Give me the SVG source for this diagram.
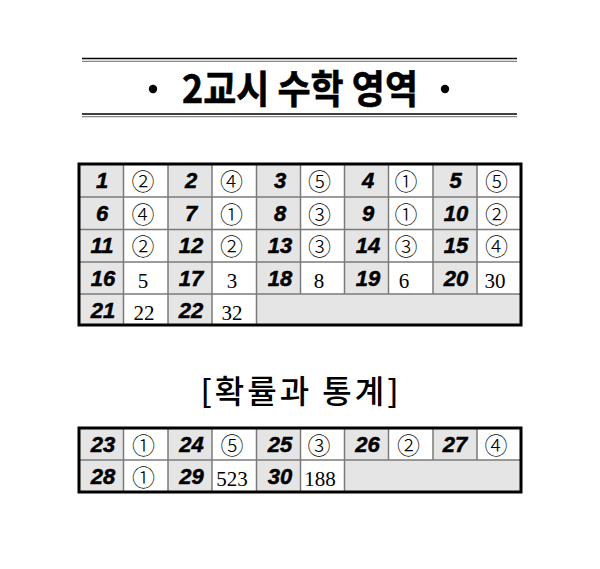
<svg xmlns="http://www.w3.org/2000/svg" width="600" height="569" viewBox="0 0 600 569">
<style>
.num{font-family:"Liberation Sans",Arial,sans-serif;font-weight:bold;font-style:italic;font-size:22px;text-anchor:middle;fill:#000;stroke:#000;stroke-width:0.5}
.ans{font-family:"Noto Sans CJK KR",sans-serif;font-weight:300;font-size:23px;text-anchor:middle;fill:#000}
.val{font-family:"Liberation Serif","Times New Roman",serif;font-size:21px;text-anchor:middle;fill:#000}
.g{fill:#e5e5e5}
.grid line{stroke:#7a7a7a;stroke-width:1.5}
.frame{fill:none;stroke:#000;stroke-width:3}
.title{font-family:"Noto Sans CJK KR",sans-serif;font-weight:bold;font-size:39px;text-anchor:middle;fill:#000;stroke:#000;stroke-width:0.6}
.sub{font-family:"Noto Sans CJK KR",sans-serif;font-weight:500;font-size:32px;text-anchor:middle;fill:#000;letter-spacing:3px}
</style>
<rect width="600" height="569" fill="#fff"/>
<g id="title">
<line x1="82" y1="58.5" x2="517" y2="58.5" stroke="#000" stroke-width="1.3"/>
<line x1="82" y1="61.3" x2="517" y2="61.3" stroke="#888" stroke-width="1.3"/>
<line x1="82" y1="114" x2="517" y2="114" stroke="#000" stroke-width="1.3"/>
<line x1="82" y1="116.6" x2="517" y2="116.6" stroke="#888" stroke-width="1.3"/>
<circle cx="153" cy="89" r="4.2" fill="#000"/>
<circle cx="445" cy="89" r="4.2" fill="#000"/>
<text class="title" x="300" y="103" textLength="236" lengthAdjust="spacingAndGlyphs">2교시 수학 영역</text>
</g>
<g id="table1">
<g id="t1-bg">
<rect class="g" x="79" y="164" width="44.5" height="161"/>
<rect class="g" x="168" y="164" width="44" height="161"/>
<rect class="g" x="256.5" y="164" width="44" height="130"/>
<rect class="g" x="344.5" y="164" width="44" height="130"/>
<rect class="g" x="433" y="164" width="44" height="130"/>
<rect class="g" x="256.5" y="294" width="264.5" height="31"/>
</g>
<g class="grid">
<line x1="79" y1="197" x2="521" y2="197"/>
<line x1="79" y1="229.5" x2="521" y2="229.5"/>
<line x1="79" y1="262" x2="521" y2="262"/>
<line x1="79" y1="294" x2="521" y2="294"/>
<line x1="123.5" y1="164" x2="123.5" y2="325"/>
<line x1="168" y1="164" x2="168" y2="325"/>
<line x1="212" y1="164" x2="212" y2="325"/>
<line x1="256.5" y1="164" x2="256.5" y2="325"/>
<line x1="300.5" y1="164" x2="300.5" y2="294"/>
<line x1="344.5" y1="164" x2="344.5" y2="294"/>
<line x1="388.5" y1="164" x2="388.5" y2="294"/>
<line x1="433" y1="164" x2="433" y2="294"/>
<line x1="477" y1="164" x2="477" y2="294"/>
</g>
<rect class="frame" x="79" y="164" width="442" height="161"/>
<g id="q1"><text class="num" x="102" y="188">1</text><text class="ans" x="143" y="190">②</text></g>
<g id="q2"><text class="num" x="191" y="188">2</text><text class="ans" x="231.5" y="190">④</text></g>
<g id="q3"><text class="num" x="280" y="188">3</text><text class="ans" x="319.5" y="190">⑤</text></g>
<g id="q4"><text class="num" x="368" y="188">4</text><text class="ans" x="406" y="190">①</text></g>
<g id="q5"><text class="num" x="455.5" y="188">5</text><text class="ans" x="496.5" y="190">⑤</text></g>
<g id="q6"><text class="num" x="102" y="220.5">6</text><text class="ans" x="143" y="222.5">④</text></g>
<g id="q7"><text class="num" x="191" y="220.5">7</text><text class="ans" x="231.5" y="222.5">①</text></g>
<g id="q8"><text class="num" x="280" y="220.5">8</text><text class="ans" x="319.5" y="222.5">③</text></g>
<g id="q9"><text class="num" x="368" y="220.5">9</text><text class="ans" x="406" y="222.5">①</text></g>
<g id="q10"><text class="num" x="456" y="220.5">10</text><text class="ans" x="496.5" y="222.5">②</text></g>
<g id="q11"><text class="num" x="102" y="253">11</text><text class="ans" x="143" y="255">②</text></g>
<g id="q12"><text class="num" x="191" y="253">12</text><text class="ans" x="231.5" y="255">②</text></g>
<g id="q13"><text class="num" x="280" y="253">13</text><text class="ans" x="319.5" y="255">③</text></g>
<g id="q14"><text class="num" x="368" y="253">14</text><text class="ans" x="406" y="255">③</text></g>
<g id="q15"><text class="num" x="456" y="253">15</text><text class="ans" x="496.5" y="255">④</text></g>
<g id="q16"><text class="num" x="103" y="286">16</text><text class="val" x="143" y="288">5</text></g>
<g id="q17"><text class="num" x="191" y="286">17</text><text class="val" x="232" y="288">3</text></g>
<g id="q18"><text class="num" x="280" y="286">18</text><text class="val" x="319" y="288">8</text></g>
<g id="q19"><text class="num" x="368" y="286">19</text><text class="val" x="404" y="288">6</text></g>
<g id="q20"><text class="num" x="456" y="286">20</text><text class="val" x="495" y="288">30</text></g>
<g id="q21"><text class="num" x="103" y="318">21</text><text class="val" x="144" y="320">22</text></g>
<g id="q22"><text class="num" x="191" y="318">22</text><text class="val" x="232" y="320">32</text></g>
</g>
<g id="subtitle">
<text class="sub" x="301" y="403">[확률과 통계]</text>
</g>
<g id="table2">
<g id="t2-bg">
<rect class="g" x="79" y="428" width="44.5" height="64"/>
<rect class="g" x="168" y="428" width="44" height="64"/>
<rect class="g" x="256.5" y="428" width="44" height="64"/>
<rect class="g" x="344.5" y="428" width="44" height="32"/>
<rect class="g" x="433" y="428" width="44" height="32"/>
<rect class="g" x="344.5" y="460" width="176.5" height="32"/>
</g>
<g class="grid">
<line x1="79" y1="460" x2="521" y2="460"/>
<line x1="123.5" y1="428" x2="123.5" y2="492"/>
<line x1="168" y1="428" x2="168" y2="492"/>
<line x1="212" y1="428" x2="212" y2="492"/>
<line x1="256.5" y1="428" x2="256.5" y2="492"/>
<line x1="300.5" y1="428" x2="300.5" y2="492"/>
<line x1="344.5" y1="428" x2="344.5" y2="492"/>
<line x1="388.5" y1="428" x2="388.5" y2="460"/>
<line x1="433" y1="428" x2="433" y2="460"/>
<line x1="477" y1="428" x2="477" y2="460"/>
</g>
<rect class="frame" x="79" y="428" width="442" height="64"/>
<g id="q23"><text class="num" x="103" y="452">23</text><text class="ans" x="143.5" y="454">①</text></g>
<g id="q24"><text class="num" x="191.5" y="452">24</text><text class="ans" x="232" y="454">⑤</text></g>
<g id="q25"><text class="num" x="280" y="452">25</text><text class="ans" x="319" y="454">③</text></g>
<g id="q26"><text class="num" x="367.5" y="452">26</text><text class="ans" x="408.5" y="454">②</text></g>
<g id="q27"><text class="num" x="455" y="452">27</text><text class="ans" x="496" y="454">④</text></g>
<g id="q28"><text class="num" x="103" y="484">28</text><text class="ans" x="143.5" y="486">①</text></g>
<g id="q29"><text class="num" x="191.5" y="484">29</text><text class="val" x="232" y="486">523</text></g>
<g id="q30"><text class="num" x="280" y="484">30</text><text class="val" x="320" y="486">188</text></g>
</g>
</svg>
